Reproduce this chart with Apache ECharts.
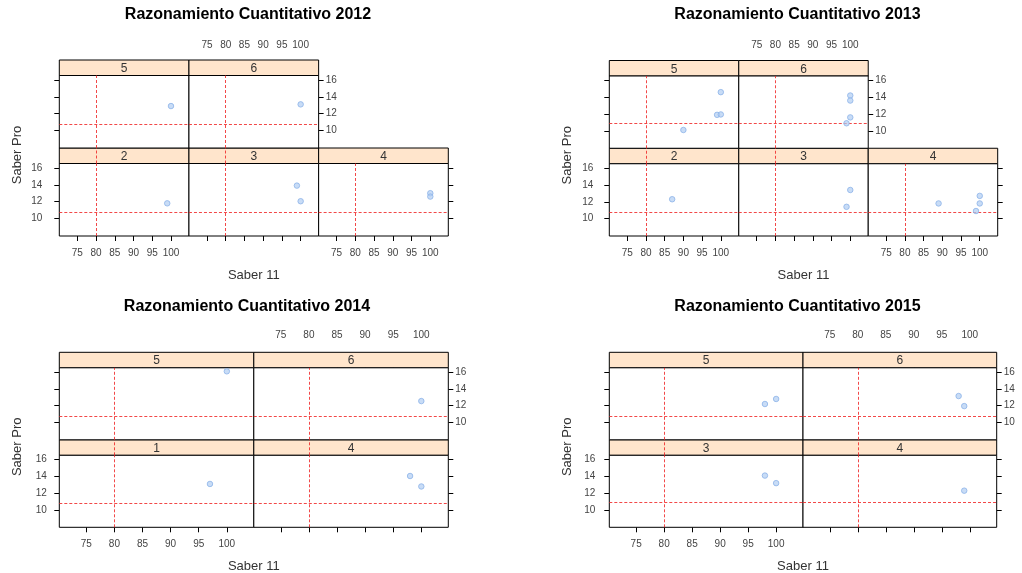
<!DOCTYPE html>
<html>
<head>
<meta charset="utf-8">
<script src="https://cdn.jsdelivr.net/npm/echarts@6/dist/echarts.min.js"></script>
<style>
  html, body { margin: 0; padding: 0; background: #fff; }
  #chart { width: 1022px; height: 573px; }
</style>
</head>
<body>
<div id="chart"></div>
<script>
// Shared axis settings
const xTicks = [75, 80, 85, 90, 95, 100];
const yTicks = [10, 12, 14, 16];
const xRange = [70.2, 104.8];
const yRange = [7.93, 16.52];
const refSaber11 = 80;
const xName = 'Saber 11';
const yName = 'Saber Pro';

// 2012
const title2012 = 'Razonamiento Cuantitativo 2012';
const facets2012 = ['2', '3', '4', '5', '6'];
const refPro2012 = [10.7, 10.7, 10.7, 10.75, 10.75];
const group2012 = ['2', '3', '3', '4', '4', '5', '6'];
const saber11_2012 = [99, 99, 100, 100, 100, 100, 100];
const saberPro2012 = [11.8, 13.9, 12.05, 13.0, 12.6, 12.9, 13.1];

// 2013
const title2013 = 'Razonamiento Cuantitativo 2013';
const facets2013 = ['2', '3', '4', '5', '6'];
const refPro2013 = [10.7, 10.7, 10.7, 10.95, 10.95];
const group2013 = ['2', '3', '3', '4', '4', '4', '4', '5', '5', '5', '5', '6', '6', '6', '6'];
const saber11_2013 = [87, 100, 99, 89, 100, 100, 99, 100, 99, 100, 90, 100, 100, 100, 99];
const saberPro2013 = [12.3, 13.4, 11.4, 11.8, 12.7, 11.8, 10.9, 14.6, 11.9, 11.95, 10.1, 14.2, 13.6, 11.6, 10.9];

// 2014
const title2014 = 'Razonamiento Cuantitativo 2014';
const facets2014 = ['1', '4', '5', '6'];
const refPro2014 = [10.8, 10.8, 10.72, 10.72];
const group2014 = ['1', '4', '4', '5', '6'];
const saber11_2014 = [97, 98, 100, 100, 100];
const saberPro2014 = [13.1, 14.05, 12.8, 16.1, 12.55];

// 2015
const title2015 = 'Razonamiento Cuantitativo 2015';
const facets2015 = ['3', '4', '5', '6'];
const refPro2015 = [10.95, 10.95, 10.78, 10.78];
const group2015 = ['3', '3', '4', '5', '5', '6', '6'];
const saber11_2015 = [98, 100, 99, 98, 100, 98, 99];
const saberPro2015 = [14.1, 13.2, 12.3, 12.2, 12.8, 13.15, 11.95];

const years = [
  { title: title2012, facets: facets2012, ref: refPro2012, group: group2012, x: saber11_2012, y: saberPro2012 },
  { title: title2013, facets: facets2013, ref: refPro2013, group: group2013, x: saber11_2013, y: saberPro2013 },
  { title: title2014, facets: facets2014, ref: refPro2014, group: group2014, x: saber11_2014, y: saberPro2014 },
  { title: title2015, facets: facets2015, ref: refPro2015, group: group2015, x: saber11_2015, y: saberPro2015 }
];

// Page layout of the four trellis blocks
const blocks = [
  { x0: 59.3, x1: 448.3, y0: 60, y1: 236, ncol: 3, titleX: 248, titleY: 15, leftMargin: 17, topMargin: 10, xlabY: 275 },
  { x0: 609.3, x1: 997.7, y0: 60.5, y1: 236, ncol: 3, titleX: 797.5, titleY: 15, leftMargin: 16, topMargin: 10, xlabY: 275 },
  { x0: 59.3, x1: 448.3, y0: 352.3, y1: 527.3, ncol: 2, titleX: 247, titleY: 307, leftMargin: 12.5, topMargin: 12, xlabY: 566 },
  { x0: 609.3, x1: 996.7, y0: 352.3, y1: 527.3, ncol: 2, titleX: 797.5, titleY: 307, leftMargin: 14, topMargin: 12, xlabY: 566 }
];

const FONT = 'Liberation Sans, Arial, Helvetica, sans-serif';
const stripH = 15.5;
const tickLen = 5;
const labelColor = '#444';
const refLine = { color: 'rgba(240,40,40,0.85)', width: 1, type: [3, 2] };

const grid = [], xAxis = [], yAxis = [], series = [], graphic = [];

function addText(x, y, text, font, fill, extra) {
  graphic.push(Object.assign({
    type: 'text', x: x, y: y, silent: true, z: 10,
    style: { text: text, font: font, fill: fill, textAlign: 'center', textVerticalAlign: 'middle' }
  }, extra || {}));
}

years.forEach(function (yr, b) {
  const L = blocks[b];
  const nrow = 2;
  const panelH = (L.y1 - L.y0 - nrow * stripH) / nrow;
  const colW = (L.x1 - L.x0) / L.ncol;
  const n = yr.facets.length;

  addText(L.titleX, L.titleY, yr.title, 'bold 16px ' + FONT, '#000');
  addText((L.x0 + L.x1) / 2, L.xlabY, xName, '13px ' + FONT, '#333');
  addText(L.x0 - 42, (L.y0 + L.y1) / 2 + 7, yName, '13px ' + FONT, '#333', { rotation: Math.PI / 2 });

  yr.facets.forEach(function (f, i) {
    const col = i % L.ncol;
    const rowFromBottom = Math.floor(i / L.ncol);
    const vr = nrow - 1 - rowFromBottom;
    const isTop = vr === 0;
    const isBottom = rowFromBottom === 0;
    const isLast = col === L.ncol - 1 || i === n - 1;
    const hasPanelAbove = (i + L.ncol) < n;

    const stripTop = L.y0 + vr * (stripH + panelH);
    const panelTop = stripTop + stripH;
    const left = L.x0 + col * colW;

    // strip
    const sg = grid.length;
    grid.push({ left: left, top: stripTop, width: colW, height: stripH, show: true,
      backgroundColor: '#ffe5cc', borderColor: '#000', borderWidth: 1, z: 1 });
    xAxis.push({
      gridIndex: sg, type: 'value', min: xRange[0], max: xRange[1], position: 'top',
      axisLine: { show: false }, splitLine: { show: false },
      axisTick: { show: isTop, customValues: xTicks, length: tickLen, inside: false, lineStyle: { color: '#000' } },
      axisLabel: { show: isTop && col % 2 === 1, customValues: xTicks, margin: L.topMargin, fontSize: 10, color: labelColor, fontFamily: FONT }
    });
    yAxis.push({ gridIndex: sg, type: 'value', min: 0, max: 1, show: false });
    if (hasPanelAbove) {
      series.push({
        type: 'scatter', xAxisIndex: sg, yAxisIndex: sg, data: [], silent: true,
        markLine: { silent: true, symbol: 'none', label: { show: false }, lineStyle: refLine, animation: false,
          data: [{ xAxis: refSaber11 }] }
      });
    }
    addText(left + colW / 2, stripTop + stripH / 2 + 1, f, '12px ' + FONT, '#333');

    // panel
    const pg = grid.length;
    grid.push({ left: left, top: panelTop, width: colW, height: panelH, show: true,
      backgroundColor: '#fff', borderColor: '#000', borderWidth: 1, z: 1 });
    xAxis.push({
      gridIndex: pg, type: 'value', min: xRange[0], max: xRange[1], position: 'bottom',
      axisLine: { show: false }, splitLine: { show: false },
      axisTick: { show: isBottom, customValues: xTicks, length: tickLen, inside: false, lineStyle: { color: '#000' } },
      axisLabel: { show: isBottom && col % 2 === 0, customValues: xTicks, margin: 12, fontSize: 10, color: labelColor, fontFamily: FONT }
    });
    const onLeft = col === 0;
    const ticked = onLeft || isLast;
    const labelled = onLeft ? isBottom : (isLast && !isBottom);
    yAxis.push({
      gridIndex: pg, type: 'value', min: yRange[0], max: yRange[1], position: onLeft ? 'left' : 'right',
      axisLine: { show: false }, splitLine: { show: false },
      axisTick: { show: ticked, customValues: yTicks, length: tickLen, inside: false, lineStyle: { color: '#000' } },
      axisLabel: { show: labelled, customValues: yTicks, margin: onLeft ? L.leftMargin : 7, fontSize: 10, color: labelColor, fontFamily: FONT }
    });

    const pts = [];
    yr.group.forEach(function (g, k) { if (g === f) pts.push([yr.x[k], yr.y[k]]); });
    series.push({
      type: 'scatter', xAxisIndex: pg, yAxisIndex: pg, data: pts, symbol: 'circle', symbolSize: 5.5,
      itemStyle: { color: 'rgba(175,204,242,0.85)', borderColor: '#8cb3e8', borderWidth: 1 },
      z: 5,
      markLine: { silent: true, symbol: 'none', label: { show: false }, lineStyle: refLine, animation: false,
        data: [{ xAxis: refSaber11 }, { yAxis: yr.ref[i] }] }
    });
  });
});

const chart = echarts.init(document.getElementById('chart'), null, { renderer: 'canvas' });
chart.setOption({
  animation: false,
  backgroundColor: '#fff',
  textStyle: { fontFamily: FONT },
  grid: grid, xAxis: xAxis, yAxis: yAxis, series: series, graphic: graphic
});
</script>
</body>
</html>
